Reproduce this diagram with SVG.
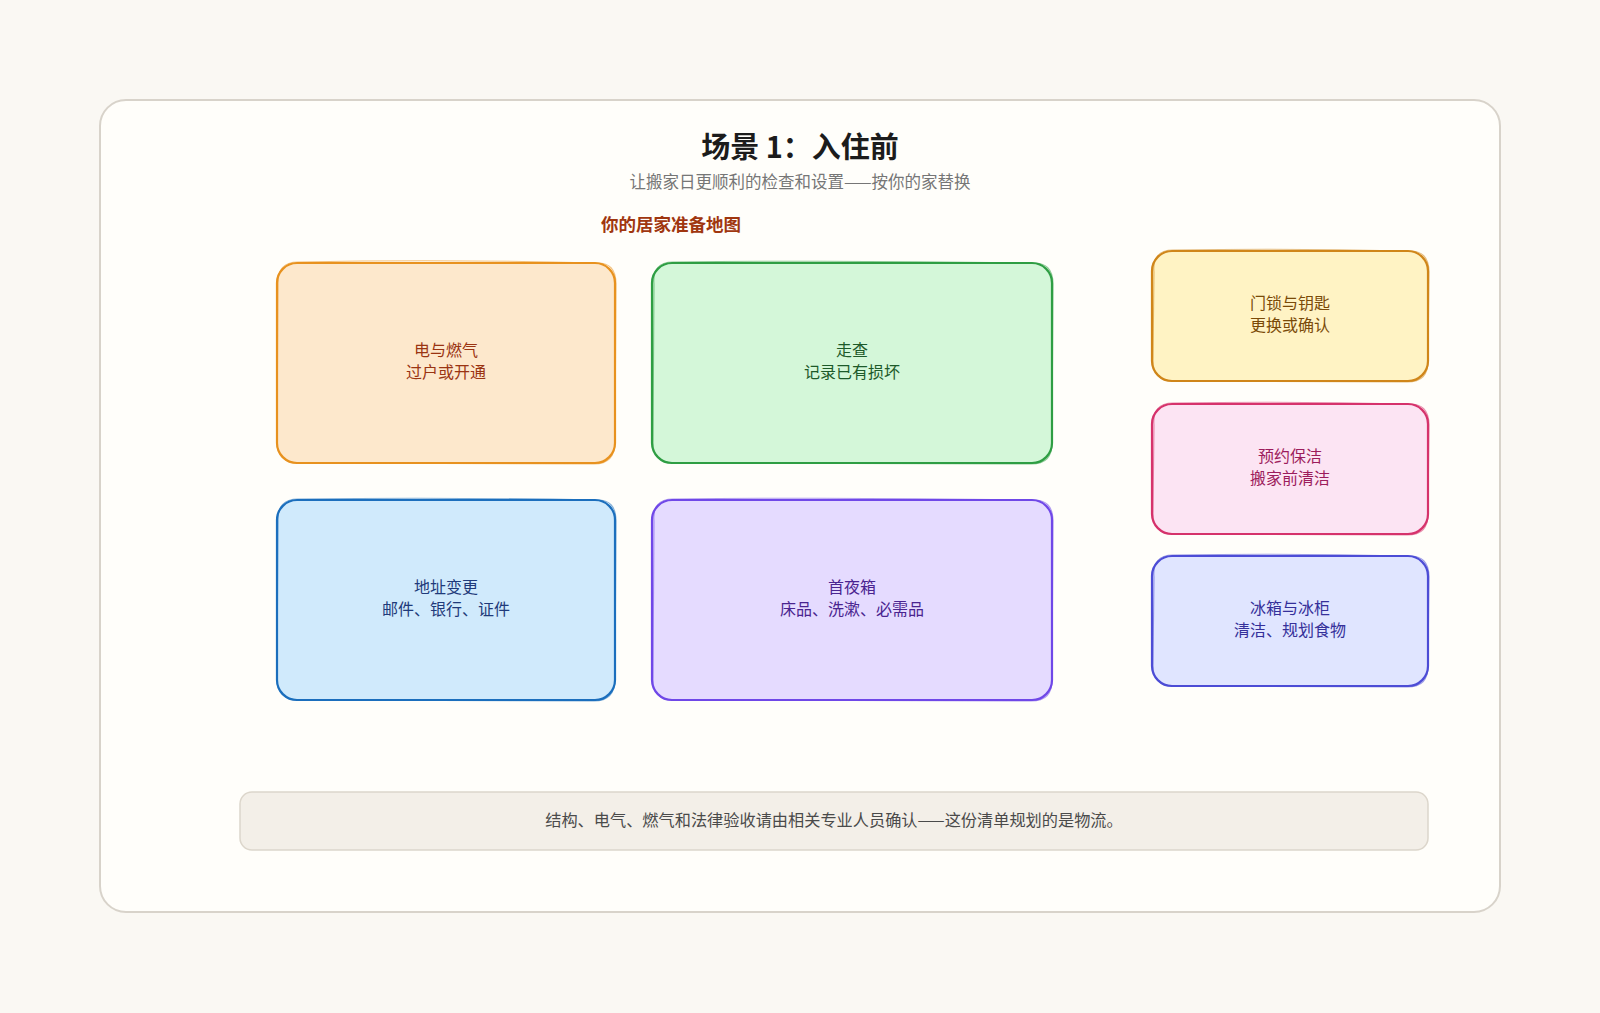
<svg xmlns="http://www.w3.org/2000/svg" width="1600" height="1013" viewBox="0 0 1600 1013">
<style>
text{font-family:"Noto Sans CJK SC","Noto Sans",sans-serif;}
.title{font-size:29px;font-weight:700;fill:#1c1c1c;}
.sub{font-size:16.5px;fill:#767676;}
.sec{font-size:17.5px;font-weight:700;fill:#a0360f;}
.lbl{font-size:16px;text-anchor:middle;dominant-baseline:central;}
.main{stroke-width:2.2;}
.echo{fill:none;stroke-width:1.1;opacity:0.55;}
.foot{font-size:16.2px;fill:#4a4a4a;text-anchor:middle;dominant-baseline:central;}
</style>
<rect x="0" y="0" width="1600" height="1013" fill="#faf8f3"/>
<rect x="100" y="100" width="1400" height="812" rx="26" fill="#fffefa" stroke="#d8d3ca" stroke-width="2"/>
<text class="title" x="800" y="158" text-anchor="middle">场景 1：入住前</text>
<text class="sub" x="800" y="188" text-anchor="middle">让搬家日更顺利的检查和设置——按你的家替换</text>
<text class="sec" x="601" y="231">你的居家准备地图</text>
<g id="connectors"></g>
<g id="n-power">
<rect class="main" x="277" y="263" width="338" height="200" rx="20" fill="#fde8cc" stroke="#e8921f"/>
<path class="echo" d="M298 262 Q446 259 596 263 Q616 262 616 284 L615 442 Q615 464 594 464 L298 463 Q276 462 277 441 L278 284 Q277 262 298 262 Z" stroke="#e8921f"/>
<text class="lbl" fill="#9a3412"><tspan x="446" y="348.5">电与燃气</tspan><tspan x="446" y="370.5">过户或开通</tspan></text>
</g>
<g id="n-walk">
<rect class="main" x="652" y="263" width="400" height="200" rx="20" fill="#d4f7d9" stroke="#2f9e44"/>
<path class="echo" d="M673 262 Q852 260 1032 263 Q1053 262 1053 284 L1052 442 Q1053 464 1031 464 L673 463 Q652 462 653 441 L654 284 Q652 262 673 262 Z" stroke="#2f9e44"/>
<text class="lbl" fill="#1d5a2a"><tspan x="852" y="348.5">走查</tspan><tspan x="852" y="370.5">记录已有损坏</tspan></text>
</g>
<g id="n-address">
<rect class="main" x="277" y="500" width="338" height="200" rx="20" fill="#d0eafc" stroke="#1c6fbd"/>
<path class="echo" d="M298 499 Q446 497 596 500 Q616 499 616 521 L615 679 Q615 701 594 701 L298 700 Q276 699 277 678 L278 521 Q277 499 298 499 Z" stroke="#1c6fbd"/>
<text class="lbl" fill="#1f3a7a"><tspan x="446" y="586">地址变更</tspan><tspan x="446" y="608">邮件、银行、证件</tspan></text>
</g>
<g id="n-box">
<rect class="main" x="652" y="500" width="400" height="200" rx="20" fill="#e5dbff" stroke="#7048e8"/>
<path class="echo" d="M673 499 Q852 497 1032 500 Q1053 499 1053 521 L1052 679 Q1053 701 1031 701 L673 700 Q652 699 653 678 L654 521 Q652 499 673 499 Z" stroke="#7048e8"/>
<text class="lbl" fill="#4a2490"><tspan x="852" y="586">首夜箱</tspan><tspan x="852" y="608">床品、洗漱、必需品</tspan></text>
</g>
<g id="n-locks">
<rect class="main" x="1152" y="251" width="276" height="130" rx="20" fill="#fff3c4" stroke="#d0861a"/>
<path class="echo" d="M1173 250 Q1290 248 1408 251 Q1429 250 1429 272 L1428 360 Q1429 382 1407 382 L1173 381 Q1152 380 1153 359 L1154 272 Q1152 250 1173 250 Z" stroke="#d0861a"/>
<text class="lbl" fill="#7a4a08"><tspan x="1290" y="302">门锁与钥匙</tspan><tspan x="1290" y="324">更换或确认</tspan></text>
</g>
<g id="n-clean">
<rect class="main" x="1152" y="404" width="276" height="130" rx="20" fill="#fce4f3" stroke="#d6336c"/>
<path class="echo" d="M1173 403 Q1290 401 1408 404 Q1429 403 1429 425 L1428 513 Q1429 535 1407 535 L1173 534 Q1152 533 1153 512 L1154 425 Q1152 403 1173 403 Z" stroke="#d6336c"/>
<text class="lbl" fill="#9c1c5c"><tspan x="1290" y="455">预约保洁</tspan><tspan x="1290" y="477">搬家前清洁</tspan></text>
</g>
<g id="n-fridge">
<rect class="main" x="1152" y="556" width="276" height="130" rx="20" fill="#e0e5ff" stroke="#4d4dd6"/>
<path class="echo" d="M1173 555 Q1290 553 1408 556 Q1429 555 1429 577 L1428 665 Q1429 687 1407 687 L1173 686 Q1152 685 1153 664 L1154 577 Q1152 555 1173 555 Z" stroke="#4d4dd6"/>
<text class="lbl" fill="#35309a"><tspan x="1290" y="607">冰箱与冰柜</tspan><tspan x="1290" y="629">清洁、规划食物</tspan></text>
</g>
<g id="footer">
<rect x="240" y="792" width="1188" height="58" rx="12" fill="#f3efe8" stroke="#dcd6cb" stroke-width="1.5"/>
<text class="foot" x="834" y="819">结构、电气、燃气和法律验收请由相关专业人员确认——这份清单规划的是物流。</text>
</g>
</svg>
